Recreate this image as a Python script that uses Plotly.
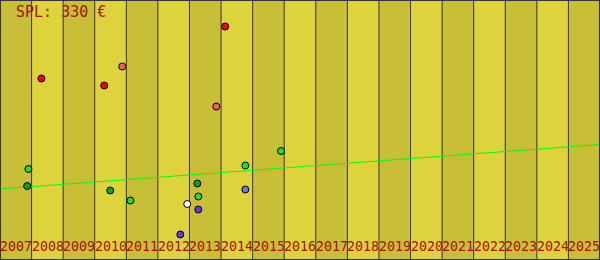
import plotly.graph_objects as go

# ---- data ----
years = list(range(2007, 2026))
title_text = "SPL: 330 €"

trend_x = [2007, 2026]
trend_y = [142, 231]

red_x = [2008.31, 2010.30, 2014.13]
red_y = [363, 349, 467]
salmon_x = [2010.87, 2013.85]
salmon_y = [387, 307]
lgreen_x = [2007.90, 2011.13, 2013.28, 2014.77, 2015.90]
lgreen_y = [182, 119, 127, 189, 218]
dgreen_x = [2007.86, 2010.49, 2013.25]
dgreen_y = [148, 139, 153]
white_x = [2012.93]
white_y = [112]
purple_x = [2013.28, 2012.71]
purple_y = [101, 51]
blue_x = [2014.77]
blue_y = [141]

DARK_BAND = "#c8be37"
LIGHT_BAND = "#ddd33d"
LINE_COL = "#33333d"
TEXT_COL = "#aa1111"

fig = go.Figure()

shapes = []
for i, yr in enumerate(years):
    shapes.append(dict(type="rect", xref="x", yref="paper", x0=yr, x1=yr + 1,
                       y0=0, y1=1, fillcolor=DARK_BAND if i % 2 == 0 else LIGHT_BAND,
                       line=dict(width=0), layer="below"))
for yr in years[1:]:
    shapes.append(dict(type="line", xref="x", yref="paper", x0=yr, x1=yr,
                       y0=0, y1=1, line=dict(color=LINE_COL, width=1), layer="below"))
shapes.append(dict(type="rect", xref="paper", yref="paper", x0=0, x1=1, y0=0, y1=1,
                   line=dict(color=LINE_COL, width=2), fillcolor="rgba(0,0,0,0)", layer="above"))

fig.add_trace(go.Scatter(x=trend_x, y=trend_y, mode="lines",
                         line=dict(color="#00ff00", width=1), hoverinfo="skip"))

def pts(xs, ys, col):
    fig.add_trace(go.Scatter(x=xs, y=ys, mode="markers",
                             marker=dict(size=7, color=col, line=dict(color="#000000", width=1))))

pts(red_x, red_y, "#ff0000")
pts(salmon_x, salmon_y, "#f06060")
pts(lgreen_x, lgreen_y, "#22e022")
pts(dgreen_x, dgreen_y, "#229922")
pts(white_x, white_y, "#ffffff")
pts(purple_x, purple_y, "#6633ee")
pts(blue_x, blue_y, "#6677ee")

annotations = []
for yr in years:
    annotations.append(dict(x=yr, y=0, xref="x", yref="paper", text=str(yr),
                            showarrow=False, xanchor="left", yanchor="bottom",
                            borderpad=0, xshift=-1, yshift=5,
                            font=dict(family="DejaVu Sans Mono", size=13.3, color=TEXT_COL)))
annotations.append(dict(x=0, y=1, xref="paper", yref="paper", text=title_text,
                        showarrow=False, xanchor="left", yanchor="top",
                        borderpad=0, xshift=15, yshift=-2,
                        font=dict(family="DejaVu Sans Mono", size=15, color=TEXT_COL)))

fig.update_layout(
    width=600, height=260, margin=dict(l=0, r=0, t=0, b=0),
    paper_bgcolor=LIGHT_BAND, plot_bgcolor=LIGHT_BAND,
    showlegend=False, shapes=shapes, annotations=annotations,
    xaxis=dict(range=[2007, 2026], visible=False, fixedrange=True),
    yaxis=dict(range=[0, 520], visible=False, fixedrange=True),
)

fig.write_html("out.html", config={"displayModeBar": False})
